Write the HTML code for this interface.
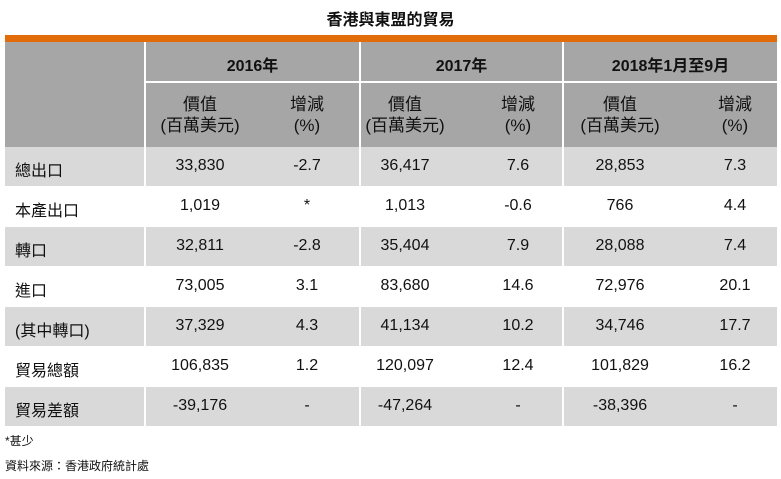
<!DOCTYPE html>
<html><head><meta charset="utf-8"><style>
body{margin:0;width:781px;height:479px;background:#fff;position:relative;overflow:hidden;font-family:"Liberation Sans","Noto Sans CJK TC",sans-serif;color:#111}
.a{position:absolute}
.t{position:absolute;text-align:center;font-size:16px;white-space:nowrap}
.hd{font-weight:bold;font-size:16px}
</style></head><body>
<div class="a" style="left:0;width:781px;top:6px;text-align:center;font-weight:bold;font-size:16px">香港與東盟的貿易</div>
<div class="a" style="left:5px;top:35px;width:772px;height:7px;background:#e36c0a"></div>
<div class="a" style="left:5px;top:42px;width:772px;height:105px;background:#a6a6a6"></div>
<div class="a" style="left:144px;top:42px;width:2px;height:105px;background:#fff"></div>
<div class="a" style="left:359px;top:42px;width:2px;height:105px;background:#fff"></div>
<div class="a" style="left:562px;top:42px;width:2px;height:105px;background:#fff"></div>
<div class="a" style="left:144px;top:81px;width:633px;height:2px;background:#fff"></div>
<div class="t hd" style="left:146px;width:213px;top:52px">2016年</div>
<div class="t hd" style="left:361px;width:201px;top:52px">2017年</div>
<div class="t hd" style="left:564px;width:213px;top:52px">2018年1月至9月</div>
<div id="hdr"></div>
<div id="rows"></div>
<div class="a" style="left:5px;top:432px;font-size:12px">*甚少</div>
<div class="a" style="left:5px;top:457px;font-size:12px">資料來源：香港政府統計處</div>
<script>
const labels=["總出口","本產出口","轉口","進口","(其中轉口)","貿易總額","貿易差額"];
const v2016=["33,830","1,019","32,811","73,005","37,329","106,835","-39,176"];
const p2016=["-2.7","*","-2.8","3.1","4.3","1.2","-"];
const v2017=["36,417","1,013","35,404","83,680","41,134","120,097","-47,264"];
const p2017=["7.6","-0.6","7.9","14.6","10.2","12.4","-"];
const v2018=["28,853","766","28,088","72,976","34,746","101,829","-38,396"];
const p2018=["7.3","4.4","7.4","20.1","17.7","16.2","-"];
const centers=[200,307,405,518,620,735];
const hdr=document.getElementById('hdr');
centers.forEach((c,i)=>{
  const d=document.createElement('div');
  d.className='t';d.style.left=(c-60)+'px';d.style.width='120px';d.style.top='94px';d.style.lineHeight='21px';d.style.fontSize='17px';
  d.innerHTML=i%2==0?'價值<br>(百萬美元)':'增減<br>(%)';
  
  
  hdr.appendChild(d);
});
const rows=document.getElementById('rows');
const cols=[v2016,p2016,v2017,p2017,v2018,p2018];
labels.forEach((lab,r)=>{
  const y=147+r*40;
  if(r%2==0){
    const bg=document.createElement('div');bg.className='a';
    bg.style.cssText=`left:5px;top:${y}px;width:772px;height:39px;background:#d9d9d9`;
    
    
    rows.appendChild(bg);
    [144,359,562].forEach(x=>{const l=document.createElement('div');l.className='a';l.style.cssText=`left:${x}px;top:${y}px;width:2px;height:39px;background:#fff`;
      
      
      rows.appendChild(l);});
  }
  const l=document.createElement('div');l.className='a';l.style.cssText=`left:15px;top:${y+10}px;font-size:16px`;l.textContent=lab;
  
  
  rows.appendChild(l);
  cols.forEach((arr,i)=>{
    const d=document.createElement('div');d.className='t';d.style.left=(centers[i]-50)+'px';d.style.width='100px';d.style.top=(y+10)+'px';d.textContent=arr[r];
    
    
    rows.appendChild(d);
  });
});
</script>
</body></html>
